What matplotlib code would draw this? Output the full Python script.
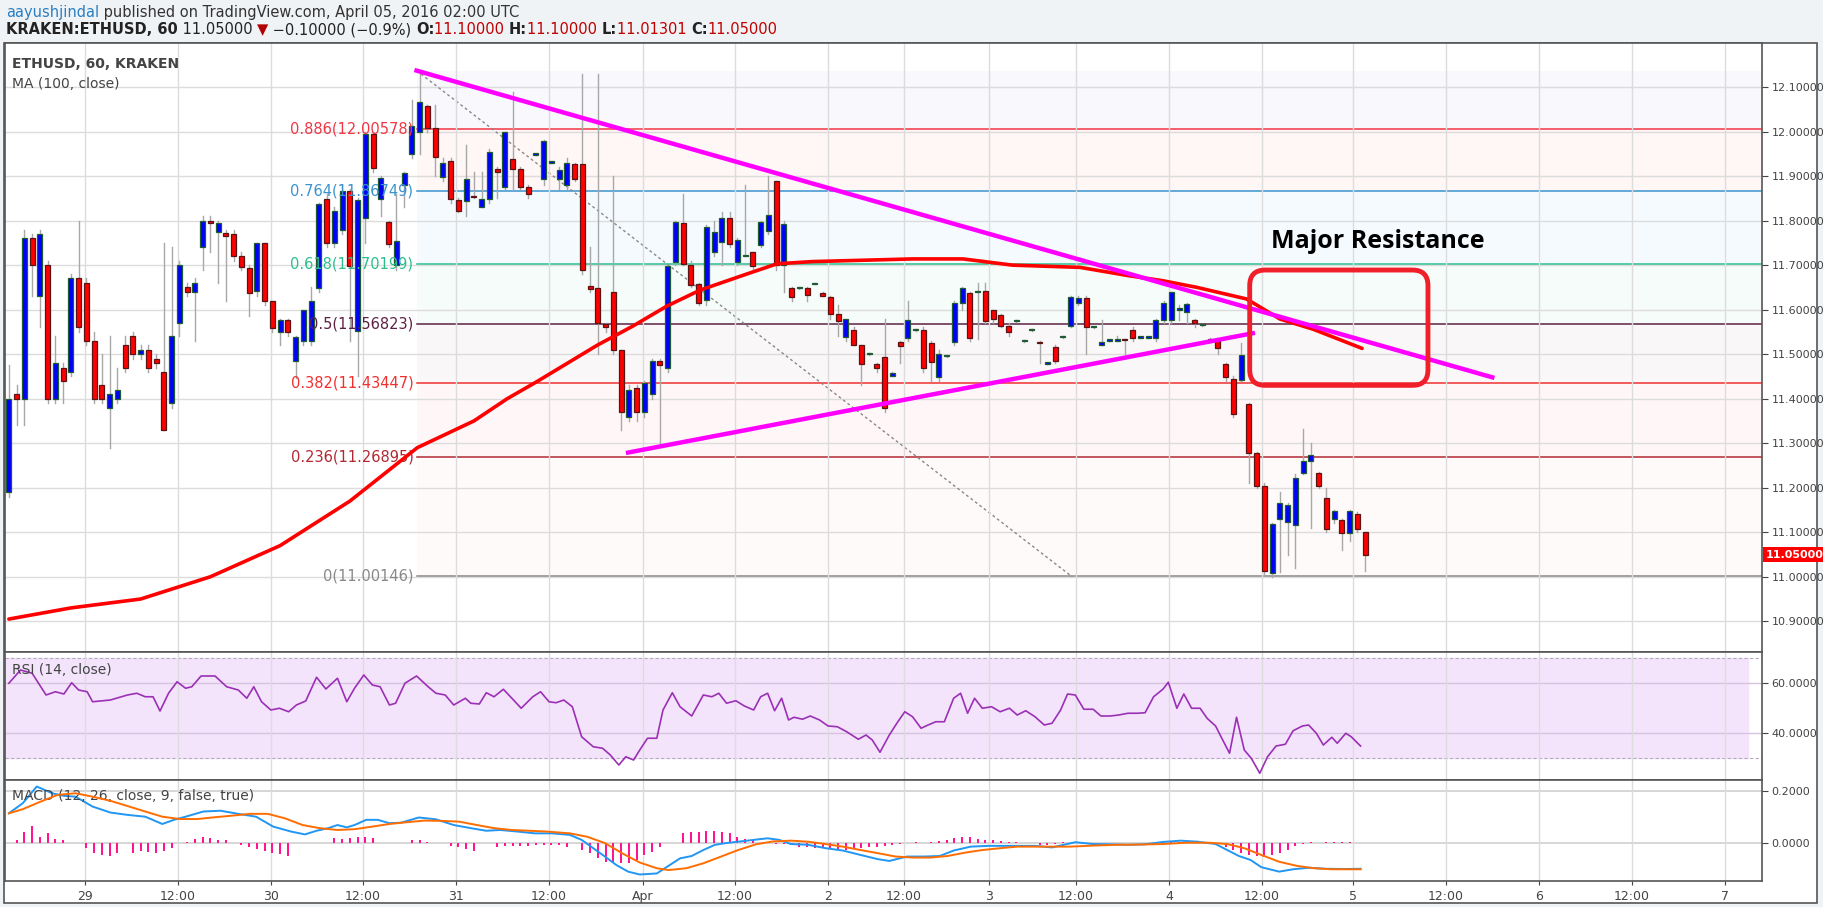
import matplotlib
matplotlib.use("Agg")
import matplotlib.pyplot as plt
from matplotlib.patches import Rectangle, FancyBboxPatch
import numpy as np

# ---------------- DATA ----------------
opens = [11.19,11.41,11.40,11.76,11.63,11.70,11.40,11.47,11.46,11.67,11.66,11.53,11.43,11.38,11.40,11.52,11.54,11.50,11.51,11.49,
 11.46,11.39,11.57,11.65,11.64,11.74,11.80,11.775,11.772,11.77,11.72,11.693,11.643,11.749,11.619,11.549,11.577,11.485,11.529,11.529,
 11.648,11.849,11.749,11.779,11.867,11.552,11.805,11.994,11.848,11.798,11.70,11.879,11.949,11.998,12.058,12.007,11.897,11.934,11.846,11.844,
 11.855,11.831,11.849,11.915,11.876,11.938,11.917,11.876,11.948,11.894,11.93,11.894,11.879,11.927,11.927,11.653,11.649,11.567,11.64,11.51,
 11.36,11.425,11.37,11.41,11.485,11.47,11.708,11.794,11.70,11.657,11.622,11.729,11.751,11.807,11.706,11.72,11.729,11.746,11.776,11.888,
 11.70,11.648,11.648,11.648,11.658,11.637,11.628,11.59,11.539,11.554,11.521,11.50,11.479,11.493,11.452,11.527,11.536,11.554,11.554,11.525,
 11.449,11.495,11.528,11.615,11.637,11.64,11.641,11.599,11.588,11.563,11.574,11.529,11.554,11.527,11.479,11.517,11.538,11.563,11.614,11.627,
 11.56,11.521,11.53,11.53,11.533,11.555,11.537,11.537,11.537,11.576,11.576,11.60,11.594,11.576,11.565,11.53,11.534,11.479,11.445,11.442,
 11.389,11.279,11.204,11.009,11.129,11.122,11.117,11.234,11.259,11.234,11.176,11.129,11.128,11.099,11.142,11.10]
closes = [11.40,11.40,11.76,11.70,11.77,11.40,11.48,11.44,11.67,11.56,11.53,11.40,11.40,11.41,11.42,11.47,11.50,11.51,11.47,11.48,
 11.33,11.54,11.70,11.64,11.66,11.80,11.795,11.795,11.765,11.72,11.695,11.637,11.749,11.619,11.558,11.577,11.549,11.538,11.599,11.619,
 11.837,11.749,11.822,11.867,11.699,11.846,11.994,11.919,11.896,11.748,11.754,11.908,12.013,12.067,12.009,11.944,11.929,11.848,11.822,11.894,
 11.853,11.849,11.955,11.909,11.998,11.917,11.876,11.859,11.949,11.978,11.931,11.914,11.93,11.893,11.688,11.647,11.569,11.56,11.51,11.37,
 11.42,11.37,11.436,11.485,11.476,11.697,11.798,11.702,11.655,11.614,11.785,11.774,11.807,11.747,11.756,11.721,11.699,11.798,11.813,11.70,
 11.792,11.628,11.649,11.634,11.659,11.631,11.59,11.575,11.579,11.521,11.478,11.501,11.47,11.38,11.457,11.518,11.577,11.555,11.468,11.482,
 11.50,11.496,11.615,11.648,11.536,11.641,11.574,11.58,11.563,11.549,11.575,11.53,11.555,11.524,11.48,11.484,11.539,11.628,11.627,11.56,
 11.561,11.528,11.531,11.531,11.531,11.537,11.538,11.538,11.576,11.614,11.639,11.601,11.612,11.57,11.566,11.534,11.513,11.448,11.365,11.499,
 11.278,11.204,11.013,11.119,11.165,11.162,11.221,11.259,11.274,11.204,11.108,11.148,11.099,11.148,11.108,11.05]
highs = [11.475,11.43,11.78,11.77,11.78,11.71,11.54,11.48,11.68,11.80,11.67,11.55,11.50,11.54,11.47,11.54,11.55,11.52,11.52,11.50,
 11.75,11.74,11.71,11.66,11.67,11.81,11.81,11.80,11.78,11.78,11.73,11.70,11.75,11.75,11.62,11.58,11.58,11.54,11.60,11.65,
 11.84,11.86,11.83,11.88,11.87,11.85,12.0,12.0,11.90,11.80,11.86,11.91,12.07,12.13,12.06,12.06,11.94,11.94,11.85,11.97,
 11.91,11.91,11.96,11.92,12.0,12.09,11.92,11.88,11.95,11.98,11.932,11.92,11.94,11.93,12.13,11.74,12.13,11.57,11.90,11.51,
 11.43,11.43,11.44,11.49,11.49,11.70,11.80,11.86,11.71,11.66,11.79,11.80,11.82,11.82,11.76,11.88,11.73,11.80,11.90,11.89,
 11.80,11.65,11.65,11.65,11.66,11.64,11.63,11.61,11.58,11.56,11.52,11.502,11.48,11.58,11.46,11.53,11.62,11.556,11.56,11.53,
 11.51,11.497,11.62,11.65,11.64,11.66,11.66,11.60,11.59,11.57,11.576,11.531,11.556,11.53,11.481,11.52,11.54,11.63,11.63,11.63,
 11.562,11.577,11.532,11.54,11.535,11.56,11.539,11.539,11.58,11.62,11.64,11.61,11.615,11.58,11.567,11.536,11.535,11.48,11.45,11.525,
 11.39,11.28,11.21,11.12,11.19,11.165,11.23,11.333,11.30,11.235,11.20,11.15,11.13,11.15,11.145,11.10]
lows = [11.18,11.34,11.34,11.63,11.56,11.39,11.39,11.39,11.45,11.55,11.52,11.39,11.39,11.29,11.39,11.46,11.49,11.49,11.46,11.47,
 11.33,11.38,11.54,11.63,11.53,11.69,11.73,11.66,11.62,11.71,11.69,11.585,11.63,11.61,11.55,11.52,11.54,11.446,11.52,11.52,
 11.64,11.74,11.74,11.77,11.53,11.45,11.75,11.91,11.81,11.74,11.69,11.83,11.94,11.95,12.0,11.90,11.89,11.84,11.82,11.81,
 11.85,11.83,11.84,11.85,11.87,11.87,11.87,11.85,11.947,11.88,11.929,11.87,11.87,11.89,11.68,11.64,11.50,11.55,11.50,11.33,
 11.35,11.35,11.36,11.40,11.30,11.46,11.70,11.70,11.65,11.61,11.61,11.72,11.70,11.74,11.70,11.72,11.69,11.74,11.77,11.69,
 11.64,11.62,11.647,11.62,11.657,11.63,11.58,11.54,11.53,11.52,11.43,11.499,11.46,11.37,11.45,11.48,11.53,11.553,11.46,11.44,
 11.44,11.494,11.52,11.60,11.53,11.535,11.57,11.57,11.56,11.54,11.573,11.528,11.553,11.48,11.478,11.48,11.537,11.56,11.61,11.50,
 11.559,11.52,11.529,11.529,11.50,11.53,11.536,11.536,11.53,11.57,11.57,11.576,11.57,11.56,11.564,11.528,11.50,11.44,11.36,11.44,
 11.21,11.20,11.005,11.0,11.01,11.05,11.02,11.23,11.11,11.20,11.10,11.12,11.06,11.08,11.10,11.013]

ma_x = [0,8,17,26,35,44,52.7,60,64.3,68,75.9,80.5,84.9,89.2,95.2,99.1,103.7,116.6,123.1,129.5,138.2,144.6,148.9,153.3,159.7,164,168.3,174.6]
ma_v = [10.905,10.93,10.95,11.0,11.07,11.17,11.29,11.35,11.40,11.437,11.52,11.563,11.608,11.644,11.68,11.703,11.708,11.714,11.714,11.70,11.695,11.676,11.665,11.65,11.624,11.579,11.556,11.513]

fib_ratios = ["0", "0.236", "0.382", "0.5", "0.618", "0.764", "0.886"]
fib_levels = [11.00146, 11.26895, 11.43447, 11.56823, 11.70199, 11.86749, 12.00578]
fib_top = 12.135
fib_colors = ["#888888", "#b22833", "#f03030", "#5e2144", "#2bbf8e", "#3a93cf", "#f23645"]
fib_fills = ["#fffafa", "#fff7f7", "#faf7f9", "#f5fcfa", "#f5fafe", "#fff6f6", "#f8f8fd"]

upper_tl_x = [52.6, 191.4]; upper_tl_y = [12.137, 11.448]
lower_tl_x = [79.9, 160.5]; lower_tl_y = [11.279, 11.547]
fib_diag_x = [52.6, 137.2]; fib_diag_y = [12.137, 11.0]

rsi_x = [0,1.5,3,4.8,6,7.1,8.1,9,10.1,10.8,13.1,15.3,16.5,17.6,18.6,19.5,20.6,21.7,22.8,23.6,24.8,26.6,28.1,29.6,30.7,31.6,32.6,33.8,34.9,36.1,
 37.1,38.3,39.7,40.9,42.4,43.6,44.6,45.8,46.9,47.9,49.1,49.9,51.1,52.6,54.1,55.1,56.3,57.4,58.9,59.6,60.7,61.6,62.6,63.8,64.9,66.1,67.6,68.6,69.7,70.6,
 71.6,72.7,73.9,75.4,76.6,77.6,78.7,79.6,80.6,81.4,82.4,83.6,84.4,85.6,86.6,88.1,89.6,90.7,91.6,92.6,93.8,94.9,96.1,97,97.9,98.8,99.7,100.6,101.3,102.4,
 103.4,104.6,105.7,106.9,108.1,109.6,110.6,111.4,112.4,113.6,114.7,115.6,116.6,117.7,118.6,119.6,120.7,121.9,122.8,123.7,124.6,125.6,126.8,127.9,129.1,130.1,131.2,132.4,133.6,134.6,
 135.7,136.6,137.6,138.7,139.9,140.9,142.1,143.2,144.4,145.6,146.6,147.7,148.9,149.6,150.7,151.6,152.6,153.7,154.6,155.7,156.4,157.5,158.4,159.4,160.3,161.4,162.4,163.5,164.7,165.7,
 166.9,167.7,168.7,169.6,170.7,171.4,172.5,173.2,174.4]
rsi_v = [59.9,65.2,63.9,55.2,56.5,55.6,60.1,57.2,56.5,52.5,53.2,55.2,55.9,54.5,54.5,48.8,55.9,60.5,57.9,58.5,62.8,62.8,58.5,57.2,53.9,58.5,52.5,49.2,49.9,48.5,
 51.2,52.8,62.3,57.6,61.9,52.5,57.9,63.2,59.2,58.5,51.2,51.9,59.9,62.8,58.5,55.9,55.2,51.2,53.9,51.9,51.6,56.1,54.5,57.5,53.9,49.9,54.5,56.5,52.5,52.1,
 53.2,50.5,38.5,34.5,33.9,31.2,27.2,30.5,29.2,33.2,37.9,37.9,49.2,56.1,50.5,46.8,55.2,54.5,55.9,51.9,52.9,50.8,49.2,54.5,55.9,48.9,53.9,45.2,46.3,45.5,
 46.8,45.2,42.8,42.5,40.5,37.5,39.2,37.2,32.3,39.2,44.5,48.5,46.5,41.9,43.2,44.5,44.5,53.9,55.9,47.9,53.9,49.9,50.5,48.5,49.9,47.2,48.9,46.5,43.2,43.9,
 49.2,55.6,55.2,49.5,49.5,46.8,46.8,47.2,47.9,47.9,48.1,54.5,57.5,60.3,49.9,55.6,49.9,49.9,45.9,42.8,38.5,31.9,46.3,33.2,29.9,23.9,30.5,34.8,35.5,40.9,
 42.8,43.2,39.9,35.2,38.3,35.9,39.9,38.5,34.8]

macd_x = [0,1.8,3.6,5.6,7.1,8.6,10.8,13.1,15.3,17.6,19.8,21.3,22.8,25.1,27.3,29.6,31.9,34.1,36.4,38.2,39.7,41.2,42.4,43.6,44.6,46.1,47.6,49.1,50.6,52.9,
 55.1,57.4,59.6,61.6,63.4,65.6,67.9,70.1,72.4,73.9,75.4,76.9,78.4,79.9,81.4,83.6,85.1,86.6,88.1,89.6,91.1,92.6,94.1,96.1,97.9,99.4,100.9,103.1,105.4,107.6,
 109.9,112.1,113.6,115.9,118.1,120.1,121.9,124.1,126.4,129.4,132.4,134.6,136.1,137.6,139.9,142.1,144.4,146.6,148.9,151.2,153.4,155.7,157.2,158.7,160.2,161.6,163.9,165.7,167.7,169.9,
 172.2,174.4]
macd_v = [0.114,0.153,0.217,0.191,0.181,0.178,0.140,0.117,0.108,0.101,0.073,0.089,0.101,0.121,0.124,0.112,0.101,0.063,0.044,0.033,0.047,0.057,0.069,0.060,0.069,0.089,0.089,0.076,0.078,0.098,
 0.091,0.069,0.057,0.047,0.050,0.044,0.037,0.037,0.031,0.012,-0.020,-0.052,-0.085,-0.110,-0.121,-0.117,-0.088,-0.059,-0.050,-0.027,-0.007,0.0,0.005,0.012,0.018,0.012,-0.004,-0.007,-0.020,-0.029,
 -0.046,-0.062,-0.069,-0.052,-0.052,-0.050,-0.029,-0.014,-0.011,-0.011,-0.011,-0.017,-0.007,0.003,-0.004,-0.005,-0.007,-0.005,0.004,0.009,0.005,-0.004,-0.027,-0.050,-0.065,-0.093,-0.110,-0.101,-0.095,-0.099,
 -0.100,-0.099]
sig_x = [0,1.8,4.1,6.3,8.6,10.8,13.1,15.3,17.6,19.8,22.1,24.3,26.6,28.8,31.1,33.4,35.6,37.9,40.1,42.4,44.6,46.9,49.1,51.4,53.6,55.9,58.1,60.4,62.6,64.9,
 67.1,69.4,72.4,74.6,76.9,79.1,81.4,83.6,85.1,87.4,89.6,91.9,94.1,96.4,98.6,100.9,103.1,105.4,107.6,109.9,112.1,114.4,116.6,118.9,121.1,123.4,125.6,127.9,130.1,132.4,
 136.9,139.9,142.9,145.9,148.9,151.9,154.9,157.2,159.4,161.6,163.9,166.2,168.4,170.7,174.4]
sig_v = [0.114,0.130,0.159,0.185,0.191,0.178,0.162,0.142,0.121,0.101,0.092,0.092,0.099,0.105,0.112,0.112,0.095,0.069,0.057,0.050,0.053,0.063,0.073,0.080,0.086,0.085,0.082,0.069,0.057,0.050,
 0.047,0.044,0.037,0.024,0.0,-0.039,-0.075,-0.097,-0.104,-0.097,-0.078,-0.052,-0.027,-0.005,0.006,0.009,0.005,-0.004,-0.014,-0.027,-0.039,-0.052,-0.056,-0.056,-0.050,-0.037,-0.027,-0.020,-0.014,-0.014,
 -0.014,-0.010,-0.007,-0.006,-0.004,0.001,0.001,-0.004,-0.020,-0.046,-0.072,-0.088,-0.097,-0.101,-0.101]
hist_x = [1,2,3,4,5,6,7,10,11,12,13,14,16,17,18,19,20,21,23,24,25,26,27,28,29,30,31,32,33,34,35,36,
 42,43,44,45,46,47,52,53,54,57,58,59,60,63,64,65,66,67,68,69,70,71,72,74,75,76,77,78,79,80,81,82,83,84,
 87,88,89,90,91,92,93,94,95,96,99,100,101,102,103,104,105,106,107,108,109,110,111,112,113,114,115,116,117,
 119,120,121,122,123,124,125,126,127,128,129,130,133,134,135,136,138,150,151,152,153,154,155,157,158,159,160,161,162,163,164,165,166,167,168,170,171,172,173,174]
hist_v = [0.013,0.044,0.066,0.024,0.037,0.014,0.013,-0.020,-0.040,-0.046,-0.050,-0.040,-0.037,-0.029,-0.033,-0.037,-0.029,-0.020,0.005,0.014,0.024,0.018,0.013,0.013,0.0,-0.007,-0.014,-0.024,-0.030,-0.037,-0.043,-0.050,
 0.018,0.014,0.018,0.024,0.024,0.018,0.013,0.013,0.005,-0.010,-0.016,-0.024,-0.029,-0.014,-0.010,-0.010,-0.011,-0.011,-0.007,-0.006,-0.009,-0.009,-0.015,-0.027,-0.040,-0.059,-0.072,-0.078,-0.078,-0.075,-0.065,-0.046,-0.033,-0.015,
 0.040,0.044,0.044,0.045,0.048,0.044,0.037,0.024,0.014,0.013,-0.003,-0.005,-0.007,-0.014,-0.016,-0.020,-0.020,-0.024,-0.027,-0.025,-0.024,-0.020,-0.016,-0.014,-0.011,-0.007,-0.003,-0.001,0.002,
 0.005,0.009,0.013,0.018,0.022,0.022,0.016,0.013,0.010,0.008,0.005,0.002,-0.007,-0.007,-0.003,0.002,0.005,0.004,0.005,0.005,0.005,0.004,0.003,-0.014,-0.027,-0.040,-0.046,-0.050,-0.052,-0.046,-0.040,-0.027,-0.011,-0.004,0.003,0.003,0.003,0.003,0.002,0.001]

tick_pos = [9.8,21.8,33.8,45.7,57.7,69.7,81.8,93.7,105.7,115.5,126.5,137.7,149.7,161.7,173.4,185.4,197.4,209.4,221.4]
tick_lab = ["29","12:00","30","12:00","31","12:00","Apr","12:00","2","12:00","3","12:00","4","12:00","5","12:00","6","12:00","7"]
price_ticks = [10.9,11.0,11.1,11.2,11.3,11.4,11.5,11.6,11.7,11.8,11.9,12.0,12.1]
last_price = 11.05

# ---------------- FIGURE ----------------
W, H = 1824, 907
fig = plt.figure(figsize=(W/100, H/100), dpi=100)
fig.patch.set_facecolor("#f0f3f6")
def fr(x0, y0, x1, y1):
    return [x0/W, 1-y1/H, (x1-x0)/W, (y1-y0)/H]
fig.add_artist(Rectangle((4/W, 1-903/H), (1817-4)/W, (903-43)/H, transform=fig.transFigure,
                         facecolor="white", edgecolor="#555555", lw=1.2, zorder=0))

ax = fig.add_axes(fr(5, 43, 1762, 652))
ax_r = fig.add_axes(fr(5, 652, 1762, 780), sharex=ax)
ax_m = fig.add_axes(fr(5, 780, 1762, 881), sharex=ax)
XMIN, XMAX = -0.5, 226.2

for a in (ax, ax_r, ax_m):
    a.set_facecolor("white")
    for s in a.spines.values():
        s.set_color("#555555"); s.set_linewidth(1.2)
    a.yaxis.tick_right()
    a.tick_params(axis="y", direction="out", length=4, labelsize=8, colors="#444444", pad=3)
    a.set_xticks(tick_pos)
    a.grid(True, axis="x", color="#dcdcdc", lw=1)
ax.set_xlim(XMIN, XMAX)
plt.setp(ax.get_xticklabels(), visible=False)
plt.setp(ax_r.get_xticklabels(), visible=False)
ax.tick_params(axis="x", length=0); ax_r.tick_params(axis="x", length=0)
ax_m.set_xticklabels(tick_lab)
ax_m.tick_params(axis="x", length=3, labelsize=9, colors="#444444")

# main price
ax.set_ylim(10.831, 12.199)
ax.set_yticks(price_ticks)
ax.set_yticklabels([f"{v:.5f}" for v in price_ticks])
for v in price_ticks:
    ax.axhline(v, color="#dcdcdc", lw=1, zorder=0.5)

# fib shading + lines
bounds = fib_levels + [fib_top]
for k in range(len(fib_levels)):
    ax.add_patch(Rectangle((52.6, bounds[k]), XMAX-52.6, bounds[k+1]-bounds[k],
                           facecolor=fib_fills[k], edgecolor="none", zorder=0.3))
for r, lv, c in zip(fib_ratios, fib_levels, fib_colors):
    ax.plot([52.6, XMAX], [lv, lv], color=c, lw=1.1, zorder=1)
    ax.text(52.2, lv, f"{r}({lv:.5f})", color=c, fontsize=10.5, ha="right", va="center", zorder=3)

ax.plot(fib_diag_x, fib_diag_y, color="#888888", lw=1, ls=(0, (2, 2)), zorder=1.5)

# candles
n = len(closes)
for i in range(n):
    o, c, h, l = opens[i], closes[i], highs[i], lows[i]
    ax.plot([i, i], [l, h], color="#a8a8a8", lw=1, zorder=2)
    up = c >= o
    body = max(abs(c - o), 0.003)
    ax.add_patch(Rectangle((i - 0.32, min(o, c)), 0.64, body,
                           facecolor="#0000ff" if up else "#ff0000",
                           edgecolor="#1e5b32" if up else "#5a1414", lw=0.9, zorder=2.5))

ax.plot(ma_x, ma_v, color="#ff0000", lw=2.6, zorder=4, solid_capstyle="round", solid_joinstyle="round")
ax.plot(upper_tl_x, upper_tl_y, color="#ff00ff", lw=3.2, zorder=4.5)
ax.plot(lower_tl_x, lower_tl_y, color="#ff00ff", lw=3.2, zorder=4.5)

ax.add_patch(FancyBboxPatch((160.1, 11.43), 23.0, 0.259,
                            boxstyle="round,pad=0,rounding_size=2", mutation_aspect=0.0174,
                            facecolor="none", edgecolor="#f01f2a", lw=3.5, zorder=5))
ax.text(176.6, 11.752, "Major Resistance", fontsize=18, fontweight="bold",
        family="Open Sans", ha="center", va="center", color="black", zorder=6)

ax.text(1.002, last_price, "11.05000", transform=ax.get_yaxis_transform(), ha="left", va="center",
        fontsize=8, color="white", fontweight="bold",
        bbox=dict(boxstyle="square,pad=0.2", facecolor="#ff0000", edgecolor="none"), zorder=10, clip_on=False)

ax.text(0.004, 0.965, "ETHUSD, 60, KRAKEN", transform=ax.transAxes, fontsize=10, fontweight="bold",
        color="#444444", va="center")
ax.text(0.004, 0.933, "MA (100, close)", transform=ax.transAxes, fontsize=10, color="#444444", va="center")

# RSI
ax_r.set_ylim(21.2, 72.4)
ax_r.set_yticks([40, 60]); ax_r.set_yticklabels(["40.0000", "60.0000"])
ax_r.axhspan(30, 70, xmin=0, xmax=(221.4+3-XMIN)/(XMAX-XMIN), color="#f3e4fb", zorder=0)
for v in (40, 60):
    ax_r.axhline(v, color="#d7c3e0", lw=1, zorder=0.5)
for v in (30, 70):
    ax_r.axhline(v, color="#b8a9bf", lw=0.8, ls=(0, (3, 2)), zorder=0.5)
ax_r.plot(rsi_x, rsi_v, color="#9b30b5", lw=1.2, zorder=3)
ax_r.text(0.004, 0.86, "RSI (14, close)", transform=ax_r.transAxes, fontsize=10, color="#444444", va="center")

# MACD
ax_m.set_ylim(-0.146, 0.242)
ax_m.set_yticks([0.0, 0.2]); ax_m.set_yticklabels(["0.0000", "0.2000"])
for v in (0.0, 0.2):
    ax_m.axhline(v, color="#d0d0d0", lw=1.2, zorder=0.5)
ax_m.bar(hist_x, hist_v, width=0.25, color="#ff1493", zorder=2)
ax_m.plot(macd_x, macd_v, color="#2196f3", lw=1.4, zorder=3)
ax_m.plot(sig_x, sig_v, color="#ff6d00", lw=1.4, zorder=3.5)
ax_m.text(0.004, 0.84, "MACD (12, 26, close, 9, false, true)", transform=ax_m.transAxes, fontsize=10,
          color="#444444", va="center")

# header (chained text pieces)
def chain(pieces, x, y):
    prev = fig.text(x, y, pieces[0][0], color=pieces[0][1], fontweight=pieces[0][2],
                    fontsize=10.5, va="baseline")
    for txt, col, wt in pieces[1:]:
        prev = fig.text(0, 0, txt, color=col, fontweight=wt, fontsize=10.5, va="baseline",
                        transform=matplotlib.transforms.offset_copy(
                            fig.transFigure, fig=fig, x=0, y=0))
        prev.remove()
    return None

from matplotlib.offsetbox import TextArea, HPacker, AnchoredOffsetbox
def header_line(pieces, y):
    boxes = [TextArea(t, textprops=dict(color=c, fontweight=w, fontsize=10.5)) for t, c, w in pieces]
    hp = HPacker(children=boxes, align="baseline", pad=0, sep=0)
    ab = AnchoredOffsetbox(loc="center left", child=hp, pad=0, frameon=False,
                           bbox_to_anchor=(6/W, y), bbox_transform=fig.transFigure, borderpad=0)
    fig.add_artist(ab)

header_line([("aayushjindal", "#2a7fc1", "normal"),
             (" published on TradingView.com, April 05, 2016 02:00 UTC", "#333333", "normal")], 1-13/H)
header_line([("KRAKEN:ETHUSD, 60", "#222222", "bold"), (" 11.05000 ", "#222222", "normal"),
             ("▼", "#b00000", "normal"), (" −0.10000 (−0.9%) ", "#222222", "normal"),
             ("O:", "#222222", "bold"), ("11.10000 ", "#c00000", "normal"),
             ("H:", "#222222", "bold"), ("11.10000 ", "#c00000", "normal"),
             ("L:", "#222222", "bold"), ("11.01301 ", "#c00000", "normal"),
             ("C:", "#222222", "bold"), ("11.05000", "#c00000", "normal")], 1-30/H)

fig.savefig("out.png", dpi=100, facecolor=fig.get_facecolor())
